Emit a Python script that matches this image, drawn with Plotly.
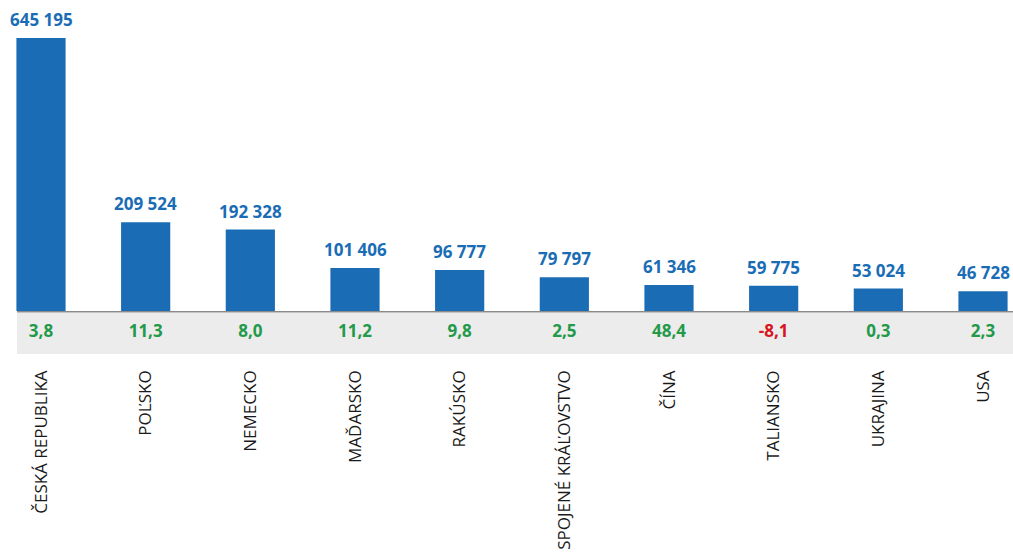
import plotly.graph_objects as go

countries = ["ČESKÁ REPUBLIKA", "POĽSKO", "NEMECKO", "MAĎARSKO", "RAKÚSKO",
             "SPOJENÉ KRÁĽOVSTVO", "ČÍNA", "TALIANSKO", "UKRAJINA", "USA"]
values = [645195, 209524, 192328, 101406, 96777, 79797, 61346, 59775, 53024, 46728]
changes = [3.8, 11.3, 8.0, 11.2, 9.8, 2.5, 48.4, -8.1, 0.3, 2.3]

def fmt_int(v):
    return f"{v:,}".replace(",", " ")

def fmt_pct(v):
    return f"{v:.1f}".replace(".", ",")

BLUE = "#1a6db5"
GREEN = "#23994a"
RED = "#d8161f"

W, H = 1013, 558
# y mapping (page px): baseline at 311, 645195 reaches 38
units_per_px = 645195 / 273.0
base_px = 311
y_top = base_px * units_per_px
plot_bottom_px = 366
y_bottom = -(plot_bottom_px - base_px) * units_per_px

x_idx = list(range(len(countries)))

fig = go.Figure()
fig.add_trace(go.Bar(
    x=x_idx, y=values, width=0.47,
    marker=dict(color=BLUE, line=dict(width=0)),
    hoverinfo="skip",
))

for i, v in zip(x_idx, values):
    fig.add_annotation(x=i, y=v, text=fmt_int(v), showarrow=False,
                       yanchor="bottom", yshift=5,
                       font=dict(family="Open Sans", size=17, color=BLUE, weight="bold"))

band_mid = -22 * units_per_px
fig.add_trace(go.Scatter(
    x=x_idx, y=[band_mid] * len(x_idx), mode="text",
    text=[fmt_pct(c) for c in changes],
    textfont=dict(family="Open Sans", size=17, weight="bold",
                  color=[GREEN if c >= 0 else RED for c in changes]),
    hoverinfo="skip",
))

band_left = 17 / W
fig.add_shape(type="rect", xref="paper", yref="y",
              x0=band_left, x1=1.0, y0=-2 * units_per_px, y1=-43 * units_per_px,
              fillcolor="#ececec", line=dict(width=0), layer="below")
fig.add_shape(type="line", xref="paper", yref="y",
              x0=band_left, x1=1.0, y0=-0.8 * units_per_px, y1=-0.8 * units_per_px,
              line=dict(color="#8a8a8a", width=1.5))

k = (983 - 41) / 9.0
x0 = -41 / k
x1 = x0 + W / k

fig.update_layout(
    width=W, height=H,
    margin=dict(l=0, r=0, t=0, b=H - plot_bottom_px),
    plot_bgcolor="white", paper_bgcolor="white",
    showlegend=False,
    xaxis=dict(range=[x0, x1], tickmode="array", tickvals=x_idx, ticktext=countries,
               tickangle=-90, showgrid=False, zeroline=False, showline=False,
               ticks="", tickfont=dict(family="Open Sans", size=17, color="#1a1a1a")),
    yaxis=dict(range=[y_bottom, y_top], visible=False, showgrid=False, zeroline=False),
)

fig.write_html("out.html", config={"displayModeBar": False},
               post_script="document.body.style.margin='0';document.body.style.overflow='hidden';")
